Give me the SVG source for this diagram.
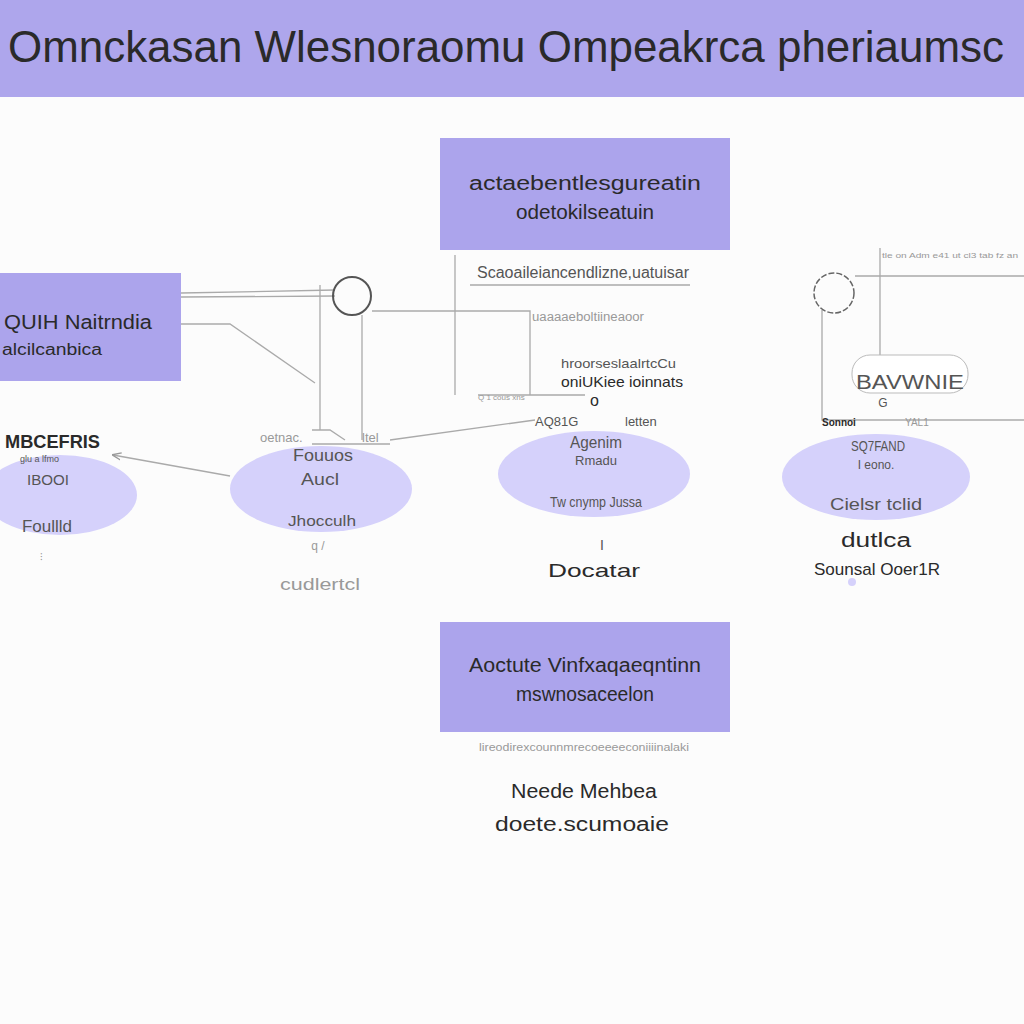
<svg xmlns="http://www.w3.org/2000/svg" width="1024" height="1024" viewBox="0 0 1024 1024">
<style>
.box{fill:#aca4ec}
.ell{fill:#d5d1fb}
.t{font-family:"Liberation Sans",Arial,sans-serif;fill:#2a2a2a}
.g{font-family:"Liberation Sans",Arial,sans-serif;fill:#555}
.f{font-family:"Liberation Sans",Arial,sans-serif;fill:#999}
.ln{stroke:#aaa;stroke-width:1.3;fill:none}
</style>
<defs>
<marker id="ah" viewBox="0 0 10 10" refX="9" refY="5" markerWidth="7" markerHeight="7" orient="auto"><path d="M0,1 L10,5 L0,9" fill="none" stroke="#999" stroke-width="1.5"/></marker>
</defs>
<rect width="1024" height="1024" fill="#fcfcfc"/>
<g id="header">
<rect x="0" y="0" width="1024" height="97" fill="#aea6ec"/>
<text class="t" x="8" y="62" font-size="44" textLength="996" lengthAdjust="spacingAndGlyphs" fill="#222">Omnckasan Wlesnoraomu Ompeakrca pheriaumsc</text>
</g>
<g id="connectors">
<path class="ln" d="M181,293 L335,290"/>
<path class="ln" d="M181,297 L335,296"/>
<path class="ln" d="M181,324 L230,324 L315,383"/>
<path class="ln" d="M320,285 L320,430"/>
<path class="ln" d="M362,315 L362,440"/>
<path class="ln" d="M372,311 L530,311 L530,395"/>
<path class="ln" d="M455,255 L455,395"/>
<path class="ln" d="M470,285 L690,285"/>
<path class="ln" d="M478,395 L585,395"/>
<path class="ln" d="M312,444 L390,444"/>
<path class="ln" d="M312,430 L330,430 L345,440"/>
<path class="ln" d="M390,440 L535,420"/>
<path class="ln" d="M230,476 L113,455" marker-end="url(#ah)"/>
<path class="ln" d="M855,276 L1024,276" stroke-width="2"/>
<path class="ln" d="M880,248 L880,355"/>
<path class="ln" d="M822,310 L822,420 L1024,420"/>
</g>
<g id="node-top">
<rect class="box" x="440" y="138" width="290" height="112"/>
<text class="t" x="585" y="190" font-size="20" text-anchor="middle" textLength="232" lengthAdjust="spacingAndGlyphs">actaebentlesgureatin</text>
<text class="t" x="585" y="219" font-size="20" text-anchor="middle" textLength="138" lengthAdjust="spacingAndGlyphs">odetokilseatuin</text>
<text class="g" x="583" y="278" font-size="16" text-anchor="middle" textLength="212" lengthAdjust="spacingAndGlyphs">Scaoaileiancendlizne,uatuisar</text>
</g>
<g id="node-left">
<rect class="box" x="0" y="273" width="181" height="108"/>
<text class="t" x="4" y="329" font-size="20" textLength="148" lengthAdjust="spacingAndGlyphs">QUIH Naitrndia</text>
<text class="t" x="2" y="355" font-size="16" textLength="100" lengthAdjust="spacingAndGlyphs">alcilcanbica</text>
</g>
<g id="circle-left">
<circle cx="352" cy="296" r="19" fill="none" stroke="#555" stroke-width="2"/>
</g>
<g id="mid-notes">
<text class="f" x="532" y="321" font-size="12" textLength="112" lengthAdjust="spacingAndGlyphs">uaaaaeboltiineaoor</text>
<text class="g" x="561" y="368" font-size="13" textLength="115" lengthAdjust="spacingAndGlyphs">hroorseslaalrtcCu</text>
<text class="t" x="561" y="387" font-size="15" textLength="122" lengthAdjust="spacingAndGlyphs" fill="#444">oniUKiee ioinnats</text>
<text class="t" x="590" y="406" font-size="16" fill="#333">o</text>
<text class="f" x="478" y="400" font-size="8">Q 1 cous xns</text>
<text class="g" x="535" y="426" font-size="13">AQ81G</text>
<text class="g" x="625" y="426" font-size="13">letten</text>
</g>
<g id="node-e1">
<ellipse class="ell" cx="60" cy="495" rx="77" ry="40"/>
<text class="t" x="5" y="448" font-size="19" font-weight="bold" fill="#1b1b3a" textLength="95" lengthAdjust="spacingAndGlyphs">MBCEFRIS</text>
<text class="g" x="20" y="462" font-size="9">glu a lfmo</text>
<text class="g" x="27" y="485" font-size="15" textLength="42" lengthAdjust="spacingAndGlyphs">IBOOI</text>
<text class="g" x="22" y="532" font-size="17" textLength="50" lengthAdjust="spacingAndGlyphs">Foullld</text>
<text class="f" x="40" y="560" font-size="10">⁝</text>
</g>
<g id="node-e2">
<ellipse class="ell" cx="321" cy="489" rx="91" ry="43"/>
<text class="f" x="260" y="442" font-size="13">oetnac.</text>
<text class="f" x="362" y="442" font-size="13">ltel</text>
<text class="g" x="323" y="461" font-size="17" text-anchor="middle" textLength="60" lengthAdjust="spacingAndGlyphs">Fouuos</text>
<text class="g" x="320" y="485" font-size="17" text-anchor="middle" textLength="38" lengthAdjust="spacingAndGlyphs">Aucl</text>
<text class="g" x="322" y="526" font-size="15" text-anchor="middle" textLength="68" lengthAdjust="spacingAndGlyphs">Jhocculh</text>
<text class="f" x="318" y="550" font-size="12" text-anchor="middle">q /</text>
<text class="f" x="320" y="590" font-size="16" text-anchor="middle" textLength="80" lengthAdjust="spacingAndGlyphs" fill="#888">cudlertcl</text>
</g>
<g id="node-e3">
<ellipse class="ell" cx="594" cy="474" rx="96" ry="43"/>
<text class="g" x="596" y="448" font-size="16" text-anchor="middle" textLength="52" lengthAdjust="spacingAndGlyphs">Agenim</text>
<text class="g" x="596" y="465" font-size="13" text-anchor="middle" textLength="42" lengthAdjust="spacingAndGlyphs">Rmadu</text>
<text class="g" x="596" y="507" font-size="14" text-anchor="middle" textLength="92" lengthAdjust="spacingAndGlyphs">Tw cnymp Jussa</text>
<text class="g" x="602" y="550" font-size="14" text-anchor="middle">I</text>
<text class="t" x="594" y="577" font-size="19" text-anchor="middle" textLength="92" lengthAdjust="spacingAndGlyphs" fill="#444">Docatar</text>
</g>
<g id="node-right">
<circle cx="834" cy="293" r="20" fill="none" stroke="#666" stroke-width="1.5" stroke-dasharray="6 2"/>
<text class="f" x="882" y="258" font-size="8" textLength="136" lengthAdjust="spacingAndGlyphs">tle on Adm e41 ut cl3 tab fz an</text>
<rect x="852" y="355" width="116" height="38" rx="18" fill="#fff" stroke="#bbb" stroke-width="1"/>
<text class="g" x="910" y="389" font-size="20" text-anchor="middle" textLength="108" lengthAdjust="spacingAndGlyphs">BAVWNIE</text>
<text class="g" x="883" y="407" font-size="12" text-anchor="middle">G</text>
<text class="t" x="822" y="426" font-size="10" font-weight="bold" fill="#333">Sonnoi</text>
<text class="f" x="905" y="426" font-size="10">YAL1</text>
</g>
<g id="node-e4">
<ellipse class="ell" cx="876" cy="477" rx="94" ry="43"/>
<text class="g" x="878" y="451" font-size="14" text-anchor="middle" textLength="54" lengthAdjust="spacingAndGlyphs">SQ7FAND</text>
<text class="g" x="876" y="469" font-size="12" text-anchor="middle">I eono.</text>
<text class="g" x="876" y="510" font-size="16" text-anchor="middle" textLength="92" lengthAdjust="spacingAndGlyphs">Cielsr tclid</text>
<text class="t" x="876" y="547" font-size="20" text-anchor="middle" textLength="70" lengthAdjust="spacingAndGlyphs" fill="#444">dutlca</text>
<text class="t" x="877" y="575" font-size="17" text-anchor="middle" textLength="126" lengthAdjust="spacingAndGlyphs" fill="#444">Sounsal Ooer1R</text>
<circle cx="852" cy="582" r="4" fill="#d5d1fb"/>
</g>
<g id="node-bottom">
<rect class="box" x="440" y="622" width="290" height="110"/>
<text class="t" x="585" y="672" font-size="20" text-anchor="middle" textLength="232" lengthAdjust="spacingAndGlyphs">Aoctute Vinfxaqaeqntinn</text>
<text class="t" x="585" y="701" font-size="20" text-anchor="middle" textLength="138" lengthAdjust="spacingAndGlyphs">mswnosaceelon</text>
<text class="f" x="584" y="751" font-size="11" text-anchor="middle" textLength="210" lengthAdjust="spacingAndGlyphs" fill="#aaa">lireodirexcounnmrecoeeeeconiiiinalaki</text>
<text class="t" x="584" y="798" font-size="20" text-anchor="middle" textLength="146" lengthAdjust="spacingAndGlyphs" fill="#444">Neede Mehbea</text>
<text class="t" x="582" y="831" font-size="20" text-anchor="middle" textLength="174" lengthAdjust="spacingAndGlyphs" fill="#444">doete.scumoaie</text>
</g>
</svg>
